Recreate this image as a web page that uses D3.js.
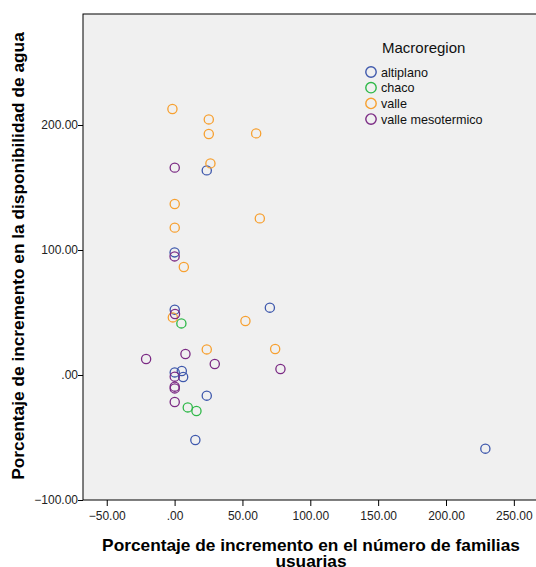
<!DOCTYPE html>
<html>
<head>
<meta charset="utf-8">
<script src="https://cdn.jsdelivr.net/npm/d3@7"></script>
<style>
  body { margin: 0; background: #fff; }
  text { font-family: "Liberation Sans", Arial, sans-serif; }
</style>
</head>
<body>
<script>
const w = 536;
const h = 567;

// Data
const regions = ["altiplano", "chaco", "valle", "valle mesotermico"];
const colors = ["#3e58ac", "#2eb848", "#f7a030", "#7b2a84"];

const altiplanoX = [23.7, 0, 0.1, 70.2, 0.1, 5.3, 6.3, 23.7, 15.3, 229.0];
const altiplanoY = [163.7, 98.1, 52.3, 53.9, 2.1, 3.2, -1.6, -16.5, -52, -58.9];

const chacoX = [5.0, 9.7, 16.1];
const chacoY = [41.3, -25.9, -28.8];

const valleX = [-1.6, 25.2, 25.2, 60.1, 26.4, 0.1, 62.8, 0.1, 6.8, -1.3, 52.2, 23.7, 74.1];
const valleY = [212.8, 204.5, 192.8, 193.3, 169.3, 136.8, 125.3, 117.9, 86.4, 46.1, 43.2, 20.5, 20.8];

const mesoX = [0.1, 0, 0.3, -21.0, 8.0, 29.6, 78.0, 0.1, 0.1, 0.1, 0.1];
const mesoY = [165.9, 94.9, 48.8, 12.8, 16.8, 8.8, 4.8, -1.3, -9.3, -10.7, -21.6];

const xTicks = [-50, 0, 50, 100, 150, 200, 250];
const yTicks = [-100, 0, 100, 200];

const points = [
  ...altiplanoX.map((x, i) => ({ x, y: altiplanoY[i], r: 0 })),
  ...chacoX.map((x, i) => ({ x, y: chacoY[i], r: 1 })),
  ...valleX.map((x, i) => ({ x, y: valleY[i], r: 2 })),
  ...mesoX.map((x, i) => ({ x, y: mesoY[i], r: 3 }))
];

const plot = { left: 83, top: 14, right: 541, bottom: 500 };

const xScale = d3.scaleLinear().domain([-67.5, 270]).range([plot.left, plot.right]);
const yScale = d3.scaleLinear().domain([-100, 288.8]).range([plot.bottom, plot.top]);

const fmt = (v) => d3.format(".2f")(v).replace(/^0\./, ".").replace(/^-0\./, "-.");

const svg = d3.select("body").append("svg").attr("width", w).attr("height", h);

// Plot background
svg.append("rect")
  .attr("x", plot.left)
  .attr("y", plot.top)
  .attr("width", plot.right - plot.left)
  .attr("height", plot.bottom - plot.top)
  .attr("fill", "#f0f0f0")
  .attr("stroke", "#000")
  .attr("stroke-width", 1);

// Axes
const xAxis = d3.axisBottom(xScale).tickValues(xTicks).tickFormat(fmt).tickSize(6).tickSizeOuter(0);
const gx = svg.append("g")
  .attr("transform", `translate(0, ${plot.bottom})`)
  .call(xAxis);
gx.select(".domain").remove();
gx.selectAll("text").attr("font-size", 12).attr("fill", "#222").attr("dy", "0.9em");

const yAxis = d3.axisLeft(yScale).tickValues(yTicks).tickFormat(fmt).tickSize(5).tickSizeOuter(0);
const gy = svg.append("g")
  .attr("transform", `translate(${plot.left}, 0)`)
  .call(yAxis);
gy.select(".domain").remove();
gy.selectAll("text").attr("font-size", 12).attr("fill", "#222").attr("x", -5);

// Points
svg.append("g")
  .selectAll("circle")
  .data(points)
  .enter()
  .append("circle")
  .attr("cx", (d) => xScale(d.x))
  .attr("cy", (d) => yScale(d.y))
  .attr("r", 4.6)
  .attr("fill", "none")
  .attr("stroke", (d) => colors[d.r])
  .attr("stroke-width", 1.3);

// Legend
const legend = svg.append("g").attr("transform", "translate(371, 0)");
legend.append("text")
  .attr("x", 11)
  .attr("y", 53)
  .attr("font-size", 15)
  .attr("fill", "#111")
  .text("Macroregion");
regions.forEach((name, i) => {
  const cy = 72 + i * 15.7;
  legend.append("circle")
    .attr("cx", 0)
    .attr("cy", cy)
    .attr("r", 5.2)
    .attr("fill", "none")
    .attr("stroke", colors[i])
    .attr("stroke-width", 1.4);
  legend.append("text")
    .attr("x", 10)
    .attr("y", cy + 4.5)
    .attr("font-size", 12.6)
    .attr("fill", "#111")
    .text(name);
});

// Axis titles
svg.append("text")
  .attr("x", 311)
  .attr("y", 551)
  .attr("text-anchor", "middle")
  .attr("font-size", 17.3)
  .attr("font-weight", "bold")
  .text("Porcentaje de incremento en el número de familias");
svg.append("text")
  .attr("x", 311)
  .attr("y", 567)
  .attr("text-anchor", "middle")
  .attr("font-size", 17.3)
  .attr("font-weight", "bold")
  .text("usuarias");

svg.append("text")
  .attr("transform", "rotate(-90)")
  .attr("x", -256)
  .attr("y", 24)
  .attr("text-anchor", "middle")
  .attr("font-size", 17.3)
  .attr("font-weight", "bold")
  .text("Porcentaje de incremento en la disponibilidad de agua");
</script>
</body>
</html>
